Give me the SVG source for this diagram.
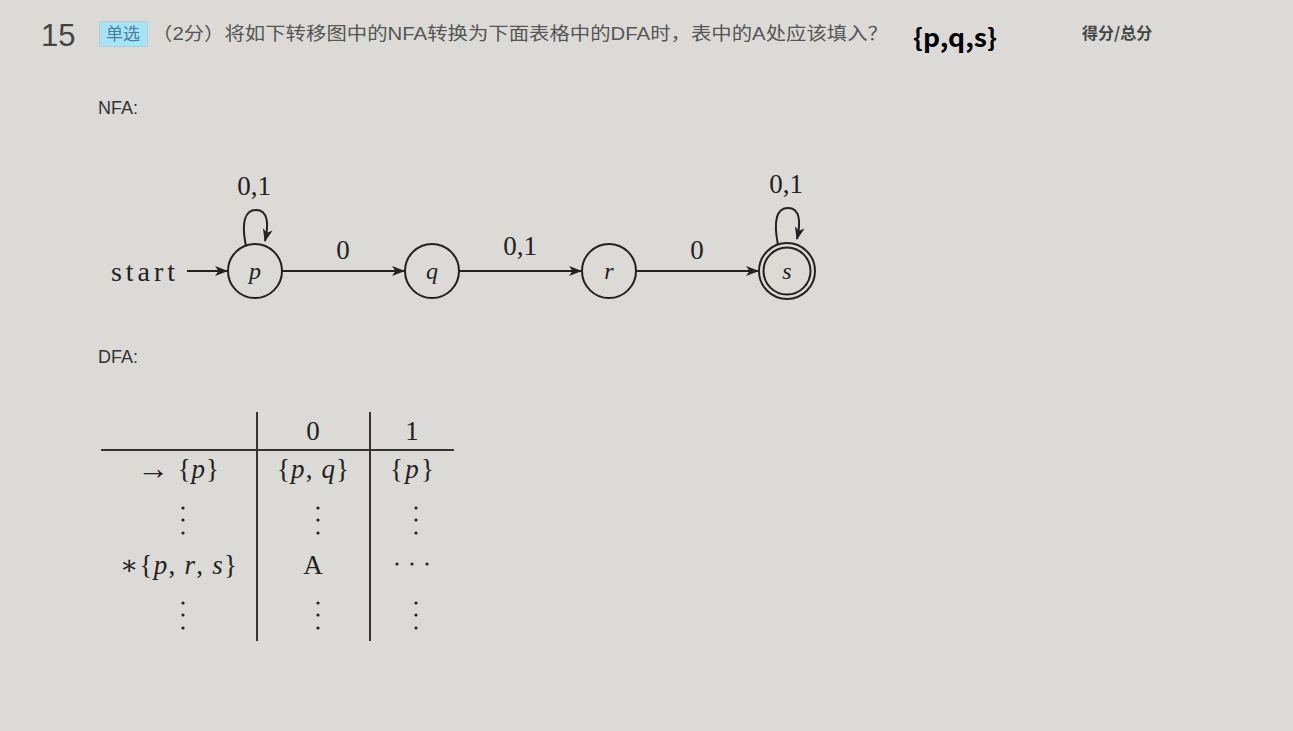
<svg xmlns="http://www.w3.org/2000/svg" width="1293" height="731" viewBox="0 0 1293 731">
<defs>
<marker id="arr" markerWidth="13" markerHeight="10" refX="12" refY="5" orient="auto" markerUnits="userSpaceOnUse">
<path d="M0,0 L13,5 L0,10 L3.5,5 Z" fill="#222"/>
</marker>
<style>
.ui{font-family:"Liberation Sans","Noto Sans CJK SC",sans-serif;}
.tex{font-family:"Liberation Serif","DejaVu Serif",serif;fill:#222;}
.it{font-style:italic;}
.st{fill:none;stroke:#222;stroke-width:2;}
.ln{stroke:#222;stroke-width:2;fill:none;}
.tl{stroke:#333;stroke-width:2;}
</style>
</defs>
<rect width="1293" height="731" fill="#dcdad6"/>
<g id="header">
<text x="41" y="46" class="ui" font-size="31" fill="#444">15</text>
<rect x="99.5" y="21.5" width="48" height="25" rx="2" fill="#a6e3f7" stroke="#b9c9cf"/>
<text x="123" y="40" class="ui" font-size="17" fill="#4a7f95" text-anchor="middle">单选</text>
<text x="152" y="40" class="ui" font-size="18" fill="#555" textLength="736" lengthAdjust="spacingAndGlyphs">（2分）将如下转移图中的NFA转换为下面表格中的DFA时，表中的A处应该填入？</text>
<text x="913" y="47" font-family="Noto Sans CJK SC,Liberation Sans,sans-serif" font-size="25" font-weight="bold" fill="#000" textLength="84" lengthAdjust="spacingAndGlyphs">{p,q,s}</text>
<text x="1082" y="39" font-family="Noto Sans CJK SC,Liberation Sans,sans-serif" font-size="16" font-weight="bold" fill="#444">得分/总分</text>
<text x="98" y="114" class="ui" font-size="18" fill="#333">NFA:</text>
<text x="98" y="363" class="ui" font-size="18" fill="#333">DFA:</text>
</g>
<g id="start-label"><text x="111" y="281" class="tex" font-size="28" textLength="64" lengthAdjust="spacing">start</text></g>
<g id="node-p"><circle cx="255" cy="271" r="27" class="st"/><text x="255" y="279" class="tex it" font-size="24" text-anchor="middle">p</text></g>
<g id="node-q"><circle cx="432" cy="271" r="27" class="st"/><text x="432" y="279" class="tex it" font-size="24" text-anchor="middle">q</text></g>
<g id="node-r"><circle cx="609" cy="271" r="27" class="st"/><text x="609" y="279" class="tex it" font-size="24" text-anchor="middle">r</text></g>
<g id="node-s"><circle cx="787" cy="271" r="28" class="st"/><circle cx="787" cy="271" r="23.5" class="st" stroke-width="1.5"/><text x="787" y="279" class="tex it" font-size="24" text-anchor="middle">s</text></g>
<g id="connectors">
<line x1="187" y1="271" x2="227" y2="271" class="ln" marker-end="url(#arr)"/>
<line x1="282" y1="271" x2="404" y2="271" class="ln" marker-end="url(#arr)"/>
<line x1="459" y1="271" x2="581" y2="271" class="ln" marker-end="url(#arr)"/>
<line x1="636" y1="271" x2="758" y2="271" class="ln" marker-end="url(#arr)"/>
<path d="M246,246 C241,222 245,210 256,210 C268,210 269,224 265,241" class="ln" marker-end="url(#arr)"/>
<path d="M778,245 C773,220 777,208 788,208 C800,208 801,222 797,239" class="ln" marker-end="url(#arr)"/>
<text x="254" y="195" class="tex" font-size="27" text-anchor="middle">0,1</text>
<text x="786" y="193" class="tex" font-size="27" text-anchor="middle">0,1</text>
<text x="343" y="259" class="tex" font-size="27" text-anchor="middle">0</text>
<text x="520" y="255" class="tex" font-size="27" text-anchor="middle">0,1</text>
<text x="697" y="259" class="tex" font-size="27" text-anchor="middle">0</text>
</g>
<g id="table">
<line x1="257" y1="412" x2="257" y2="641" class="tl"/>
<line x1="370" y1="412" x2="370" y2="641" class="tl"/>
<line x1="101" y1="450" x2="454" y2="450" class="tl"/>
<g class="tex" font-size="27">
<text x="313" y="440" text-anchor="middle">0</text>
<text x="412" y="440" text-anchor="middle">1</text>
<text x="137" y="478" textLength="82" lengthAdjust="spacing"><tspan font-size="32" dy="1">→</tspan><tspan dy="-1"> {</tspan><tspan class="it">p</tspan>}</text>
<text x="277" y="478" textLength="72" lengthAdjust="spacing">{<tspan class="it">p</tspan>, <tspan class="it">q</tspan>}</text>
<text x="390" y="478" textLength="44" lengthAdjust="spacing">{<tspan class="it">p</tspan>}</text>
<text x="120" y="574" textLength="117" lengthAdjust="spacing">∗{<tspan class="it">p</tspan>, <tspan class="it">r</tspan>, <tspan class="it">s</tspan>}</text>
<text x="313" y="574" text-anchor="middle">A</text>
</g>
<g fill="#222">
<circle cx="397" cy="564" r="1.6"/><circle cx="412" cy="564" r="1.6"/><circle cx="427" cy="564" r="1.6"/>
<circle cx="183" cy="508" r="1.6"/><circle cx="183" cy="520" r="1.6"/><circle cx="183" cy="533" r="1.6"/>
<circle cx="318" cy="508" r="1.6"/><circle cx="318" cy="520" r="1.6"/><circle cx="318" cy="533" r="1.6"/>
<circle cx="416" cy="508" r="1.6"/><circle cx="416" cy="520" r="1.6"/><circle cx="416" cy="533" r="1.6"/>
<circle cx="183" cy="603" r="1.6"/><circle cx="183" cy="615" r="1.6"/><circle cx="183" cy="628" r="1.6"/>
<circle cx="318" cy="603" r="1.6"/><circle cx="318" cy="615" r="1.6"/><circle cx="318" cy="628" r="1.6"/>
<circle cx="416" cy="603" r="1.6"/><circle cx="416" cy="615" r="1.6"/><circle cx="416" cy="628" r="1.6"/>
</g>
</g>
</svg>
